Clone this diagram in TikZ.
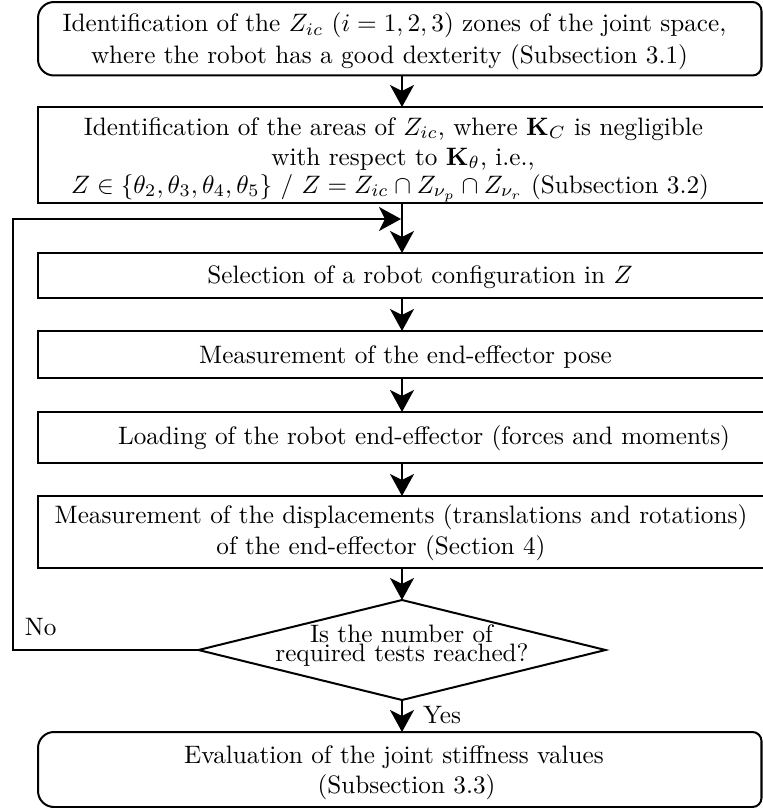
\documentclass[tikz,border=0pt]{standalone}
\usetikzlibrary{shapes.geometric,arrows.meta}
\begin{document}
\begin{tikzpicture}[x=0.3968pt, y=-0.3968pt,
  every node/.style={inner sep=0pt, outer sep=0pt},
  lw/.style={line width=0.794pt},
  box/.style={draw, line width=0.794pt, minimum width=288.87pt, anchor=center},
  plain/.style={minimum width=287.08pt, anchor=center},
  txt/.style={anchor=base, font=\fontsize{10}{12}\selectfont},
  decision/.style={diamond, draw, line width=0.794pt, minimum width=161.5pt, minimum height=39.68pt, anchor=center},
  arr/.style={line width=0.794pt, -{Stealth[length=8.73pt, width=9.52pt, inset=2.38pt]}}
]
\useasboundingbox (0,0) rectangle (762,808);

% top terminator
\node[plain, minimum height=29.16pt] (top) at (399.75,38.75) {};
\draw[lw] (top.north) [rounded corners=3.57pt] -- (top.north east) -- (top.south east) -- (top.south)
  [rounded corners=6.35pt] -- (top.south west) -- (top.north west) -- cycle;
\node[txt] (t1a) at (394.5,32) {Identification of the $Z_{ic}$ $(i=1,2,3)$ zones of the joint space,};
\node[txt] (t1b) at (389.5,63.3) {where the robot has a good dexterity (Subsection 3.1)};

% box 2
\node[box, minimum height=38.09pt] (b2) at (402,155) {};
\node[txt] (t2a) at (393.5,135) {Identification of the areas of $Z_{ic}$, where $\mathbf{K}_C$ is negligible};
\node[txt] (t2b) at (403,165) {with respect to $\mathbf{K}_\theta$, i.e.,};
\node[txt] (t2c) at (390,193) {$Z\in\{\theta_2,\theta_3,\theta_4,\theta_5\}$ / $Z=Z_{ic}\cap Z_{\nu_p}\cap Z_{\nu_r}$ (Subsection 3.2)};

% box 3
\node[box, minimum height=17.86pt] (b3) at (402,275.5) {};
\node[txt] (t3) at (420,283) {Selection of a robot configuration in $Z$};

% box 4
\node[box, minimum height=18.65pt] (b4) at (402,354.5) {};
\node[txt] (t4) at (405.5,363) {Measurement of the end-effector pose};

% box 5
\node[box, minimum height=20.24pt] (b5) at (402,437.5) {};
\node[txt] (t5) at (424,444) {Loading of the robot end-effector (forces and moments)};

% box 6
\node[box, minimum height=28.57pt] (b6) at (402,532) {};
\node[txt] (t6a) at (401,523) {Measurement of the displacements (translations and rotations)};
\node[txt] (t6b) at (381,554) {of the end-effector (Section 4)};

% decision
\node[decision] (d) at (402,650) {};
\node[txt] (tda) at (401.5,642) {Is the number of};
\node[txt] (tdb) at (402,661.5) {required tests reached?};
\node[txt, anchor=base west] (no) at (25,635) {No};
\node[txt, anchor=base west] (yes) at (423,723) {Yes};

% bottom terminator
\node[plain, minimum height=29.76pt] (bot) at (399.75,769.5) {};
\draw[lw] (bot.north) [rounded corners=3.57pt] -- (bot.north east) -- (bot.south east) -- (bot.south)
  [rounded corners=6.35pt] -- (bot.south west) -- (bot.north west) -- cycle;
\node[txt] (tba) at (394,763) {Evaluation of the joint stiffness values};
\node[txt] (tbb) at (406.5,793) {(Subsection 3.3)};

% connectors
\coordinate (lc) at (13,219);
\coordinate (fb) at (401,219);
\draw[arr] (top.south -| b2) -- (b2.north);
\draw[arr] (b2.south) -- (b3.north);
\draw[arr] (b3.south) -- (b4.north);
\draw[arr] (b4.south) -- (b5.north);
\draw[arr] (b5.south) -- (b6.north);
\draw[arr] (b6.south) -- (d.north);
\draw[arr] (d.south) -- (bot.north -| d);
\draw[arr] (d.west) -| (lc) -- (fb);
\end{tikzpicture}
\end{document}
